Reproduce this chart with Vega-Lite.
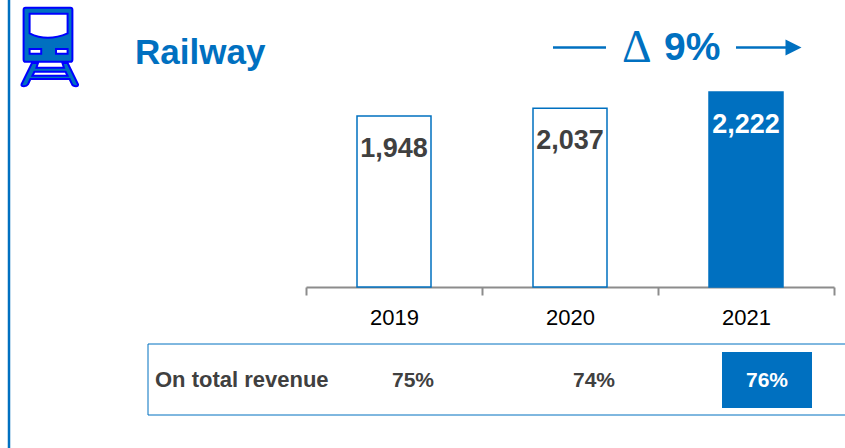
{
"$schema":"https://vega.github.io/schema/vega-lite/v6.json",
"width":528,"height":195,
"autosize":"none",
"padding":{"left":306,"top":92,"right":11,"bottom":161},
"background":"white",
"view":{"stroke":null},
"config":{"font":"Liberation Sans"},
"data":{"values":[
{"year":"2019","revenue":1948,"share":0.75},
{"year":"2020","revenue":2037,"share":0.74},
{"year":"2021","revenue":2222,"share":0.76}]},
"layer":[
{"data":{"values":[{"name":"frame"}]},"mark":{"type":"rule","stroke":"#0070c0","strokeWidth":2.5},"encoding":{"x":{"value":-297},"y":{"value":-92},"y2":{"value":356}}},
{"data":{"values":[{"name":"table"}]},"mark":{"type":"rect","fill":"white","stroke":"#0070c0","strokeWidth":1},"encoding":{"x":{"value":-158},"x2":{"value":545},"y":{"value":252},"y2":{"value":323}}},
{"mark":{"type":"bar","size":74,"stroke":"#0070c0","strokeWidth":1.5},
"encoding":{
"x":{"field":"year","type":"nominal","scale":{"paddingInner":0,"paddingOuter":0},
"axis":{"title":null,"tickBand":"extent","labelAngle":0,"labelFont":"Liberation Sans","labelFontSize":22,"labelColor":"#000000","labelPadding":12,"domainColor":"#8c8c8c","domainWidth":2,"tickColor":"#8c8c8c","tickWidth":2,"tickSize":8,"grid":false}},
"y":{"field":"revenue","type":"quantitative","scale":{"domain":[0,2222],"nice":false},"axis":null},
"fill":{"condition":{"test":"datum.year==='2021'","value":"#0070c0"},"value":"#ffffff"}}},
{"mark":{"type":"text","font":"Liberation Sans","fontWeight":"bold","fontSize":27,"dy":33,"baseline":"middle"},
"encoding":{
"x":{"field":"year","type":"nominal"},
"y":{"field":"revenue","type":"quantitative"},
"text":{"field":"revenue","type":"quantitative","format":","},
"color":{"condition":{"test":"datum.year==='2021'","value":"#ffffff"},"value":"#404040"}}},
{"transform":[{"filter":"datum.year==='2021'"}],"mark":{"type":"bar","size":90,"xOffset":21,"fill":"#0070c0"},
"encoding":{"x":{"field":"year","type":"nominal"},"y":{"value":260},"y2":{"value":316}}},
{"transform":[{"filter":"datum.year==='2019'"}],"mark":{"type":"text","font":"Liberation Sans","fontWeight":"bold","fontSize":21,"dx":19,"baseline":"middle","color":"#404040"},
"encoding":{"x":{"field":"year","type":"nominal"},"y":{"value":289},"text":{"field":"share","type":"quantitative","format":".0%"}}},
{"transform":[{"filter":"datum.year==='2020'"}],"mark":{"type":"text","font":"Liberation Sans","fontWeight":"bold","fontSize":21,"dx":24,"baseline":"middle","color":"#404040"},
"encoding":{"x":{"field":"year","type":"nominal"},"y":{"value":289},"text":{"field":"share","type":"quantitative","format":".0%"}}},
{"transform":[{"filter":"datum.year==='2021'"}],"mark":{"type":"text","font":"Liberation Sans","fontWeight":"bold","fontSize":21,"dx":21,"baseline":"middle","color":"#ffffff"},
"encoding":{"x":{"field":"year","type":"nominal"},"y":{"value":289},"text":{"field":"share","type":"quantitative","format":".0%"}}},
{"data":{"values":[{"label":"On total revenue"}]},"mark":{"type":"text","font":"Liberation Sans","fontWeight":"bold","fontSize":22,"align":"left","baseline":"middle","color":"#404040"},
"encoding":{"x":{"value":-151},"y":{"value":288},"text":{"field":"label"}}},
{"data":{"values":[{"label":"Railway"}]},"mark":{"type":"text","font":"Liberation Sans","fontWeight":"bold","fontSize":35,"align":"left","baseline":"middle","color":"#0070c0"},
"encoding":{"x":{"value":-171},"y":{"value":-39},"text":{"field":"label"}}},
{"data":{"values":[{"label":"Δ"}]},"mark":{"type":"text","font":"Liberation Serif","fontSize":46,"align":"left","baseline":"middle","color":"#0070c0"},
"encoding":{"x":{"value":316},"y":{"value":-44},"text":{"field":"label"}}},
{"data":{"values":[{"label":"9%"}]},"mark":{"type":"text","font":"Liberation Sans","fontWeight":"bold","fontSize":39,"align":"left","baseline":"middle","color":"#0070c0"},
"encoding":{"x":{"value":358},"y":{"value":-44},"text":{"field":"label"}}},
{"data":{"values":[{"name":"arrow-left"}]},"mark":{"type":"rule","stroke":"#0070c0","strokeWidth":2.5},"encoding":{"x":{"value":247},"x2":{"value":300},"y":{"value":-44.5}}},
{"data":{"values":[{"name":"arrow-right"}]},"mark":{"type":"rule","stroke":"#0070c0","strokeWidth":2.5},"encoding":{"x":{"value":430},"x2":{"value":488},"y":{"value":-44.5}}},
{"data":{"values":[{"name":"arrow-head"}]},"mark":{"type":"point","shape":"M-1,-1L1,0L-1,1Z","filled":true,"fill":"#0070c0","opacity":1,"size":256},"encoding":{"x":{"value":487.5},"y":{"value":-44.5}}},
{"data":{"values":[{"name":"train"}]},"mark":{"type":"point","filled":true,"fill":"#0070c0","opacity":1,"stroke":"#0000ff","strokeWidth":2,"strokeOpacity":1,"size":6400,
"shape":"M-0.56,-0.98L0.56,-0.98Q0.61,-0.98 0.61,-0.93L0.61,0.31Q0.61,0.37 0.56,0.37L-0.56,0.37Q-0.61,0.37 -0.61,0.31L-0.61,-0.93Q-0.61,-0.98 -0.56,-0.98ZM-0.46,-0.83L-0.46,-0.34Q-0.02,-0.12 0.49,-0.34L0.49,-0.83ZM-0.46,0.05L-0.46,0.17L-0.17,0.17L-0.17,0.05ZM0.2,0.05L0.2,0.17L0.49,0.17L0.49,0.05ZM-0.4,0.4L-0.25,0.4L-0.29,0.52L0.4,0.52L0.36,0.4L0.49,0.4L0.75,0.93Q0.76,0.98 0.7,0.98Q0.62,0.98 0.6,0.93L0.54,0.8L-0.44,0.8L-0.5,0.93Q-0.53,0.98 -0.6,0.98Q-0.68,0.98 -0.66,0.93ZM-0.34,0.62L-0.39,0.72L0.49,0.72L0.44,0.62Z"},
"encoding":{"x":{"value":-258},"y":{"value":-45}}}
]
}
